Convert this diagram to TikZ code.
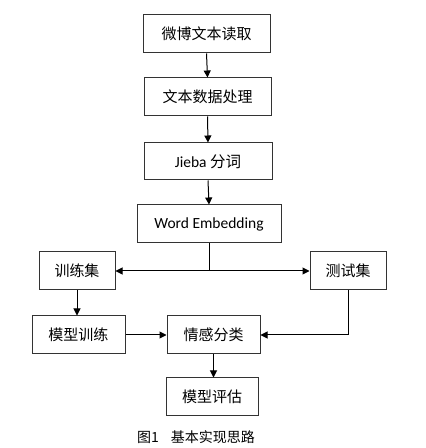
\documentclass[tikz,border=0pt]{standalone}
\usepackage{fontspec}
\setmainfont{Carlito}
\newfontfamily\cjk{Noto Sans CJK SC}
\usetikzlibrary{arrows.meta}
\begin{document}
\begin{tikzpicture}[x=1pt,y=1pt,
  box/.style={draw=black!80,line width=1pt,rectangle,inner sep=0pt,font=\cjk\fontsize{15}{18}\selectfont},
  arr/.style={-{Stealth[length=7pt,width=7pt,inset=0pt]},line width=1pt,black},
  ln/.style={line width=1pt,black}]
\fill[white] (0,0) rectangle (426,448);
\useasboundingbox (0,0) rectangle (426,448);
\node[box,minimum width=127pt,minimum height=38pt] (b1) at (206.5,414) {微博文本读取};
\node[box,minimum width=127pt,minimum height=38pt] (b2) at (207.5,351) {文本数据处理};
\node[box,minimum width=128pt,minimum height=37pt] (b3) at (208,286.5) {\rmfamily\fontsize{15.5}{18}\selectfont Jieba {\cjk 分词}};
\node[box,minimum width=144pt,minimum height=38pt] (b4) at (209,224) {\rmfamily\fontsize{15.5}{18}\selectfont Word Embedding};
\node[box,minimum width=76pt,minimum height=38pt] (train) at (77,177) {训练集};
\node[box,minimum width=76pt,minimum height=38pt] (test) at (348,177) {测试集};
\node[box,minimum width=93pt,minimum height=38pt] (mtrain) at (78.5,113) {模型训练};
\node[box,minimum width=93pt,minimum height=38pt] (cls) at (213.5,113) {情感分类};
\node[box,minimum width=92pt,minimum height=38pt] (eval) at (212,51) {模型评估};
\coordinate (j) at (209,177);
\draw[arr] (b1.south) -- (b2.north);
\draw[arr] (b2.south) -- (b3.north);
\draw[arr] (b3.south) -- (b4.north);
\draw[ln] (b4.south) -- (j);
\draw[arr] (j) -- (train.east);
\draw[arr] (j) -- (test.west);
\draw[arr] (train.south) -- (train.south |- mtrain.north);
\draw[arr] (mtrain.east) -- (cls.west);
\draw[arr] (test.south) |- (cls.east);
\draw[arr] (cls.south) -- (cls.south |- eval.north);
\node[inner sep=0pt,anchor=west,font=\cjk\fontsize{14}{16}\selectfont] (cap) at (137,11) {图1\hspace{12pt}基本实现思路};
\end{tikzpicture}
\end{document}
